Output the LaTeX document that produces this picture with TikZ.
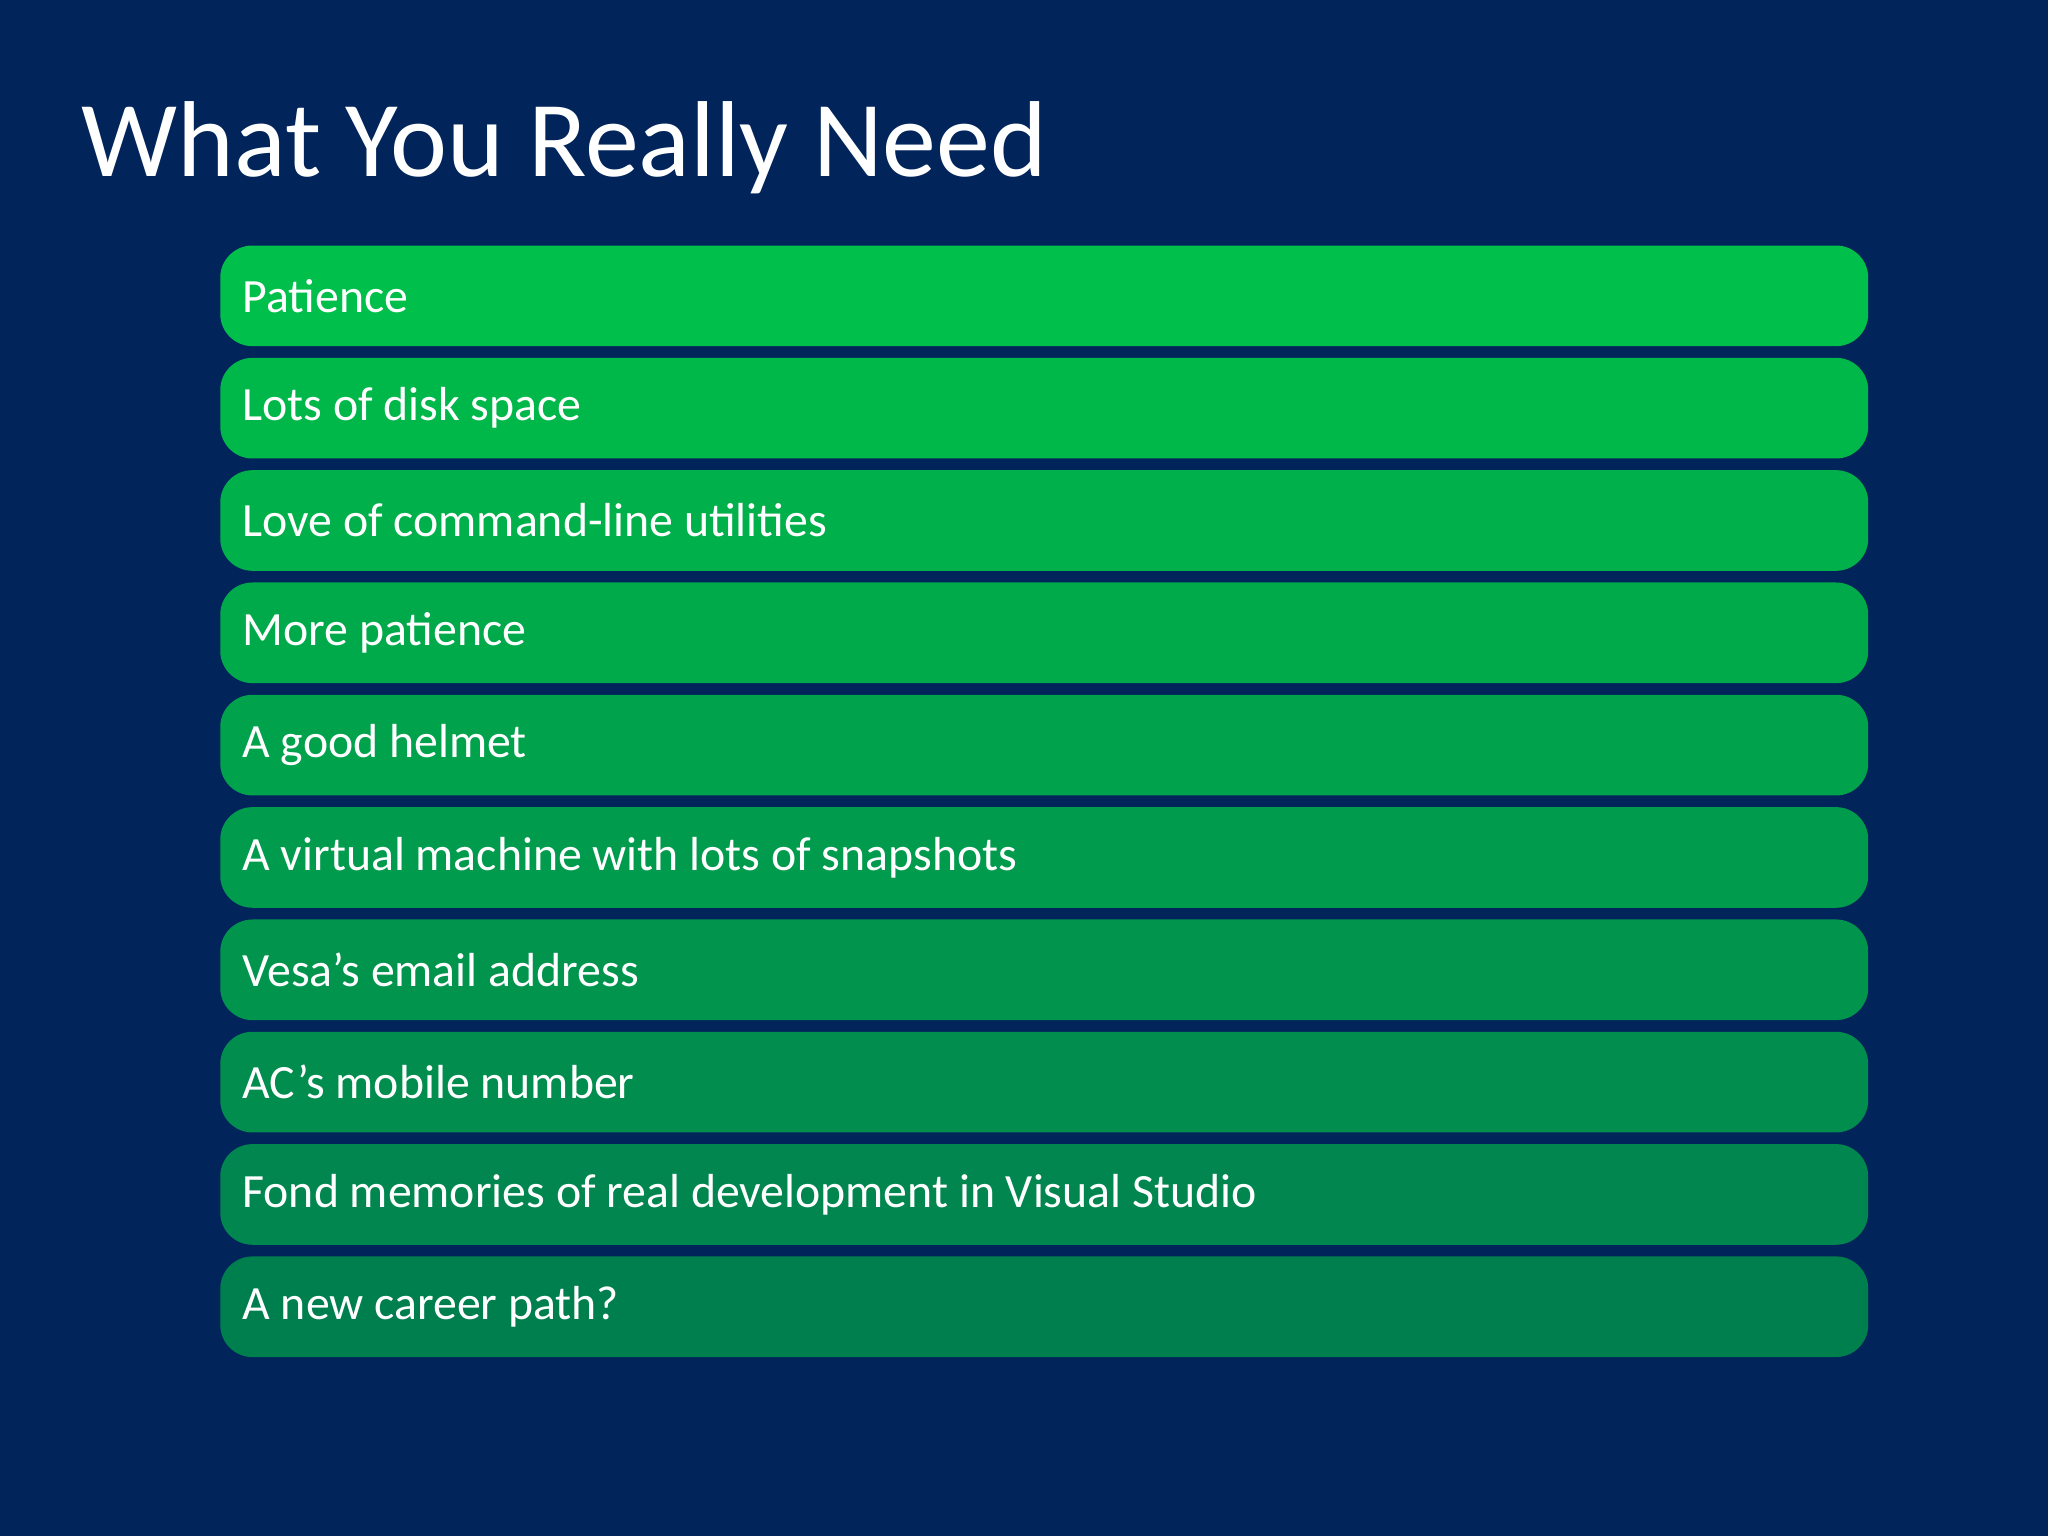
\documentclass[tikz,border=0pt]{standalone}
\usepackage{fontspec}
\setmainfont{Carlito}
\definecolor{bg}{HTML}{01245A}
\definecolor{gtop}{HTML}{00BF4A}
\definecolor{gbot}{HTML}{007F4E}
\begin{document}
\begin{tikzpicture}[x=0.01cm,y=-0.01cm,
  bar/.style={rounded corners=7pt, minimum width=12.61cm, minimum height=0.77cm, inner sep=0pt},
  lbl/.style={anchor=west, text=white, font=\fontsize{10.4pt}{12pt}\selectfont, inner sep=0pt}]
\fill[bg] (0,0) rectangle (1568,1176);
\node[anchor=base west, text=white, font=\fontsize{23.5pt}{28pt}\selectfont, inner sep=0pt] (title) at (62,135) {What You Really Need};
\foreach \t [count=\i from 0] in {Patience,Lots of disk space,Love of command-line utilities,More patience,A good helmet,A virtual machine with lots of snapshots,Vesa’s email address,AC’s mobile number,Fond memories of real development in Visual Studio,A new career path?}{
  \pgfmathsetmacro{\mix}{100-\i*100/9}
  \node[bar, fill=gtop!\mix!gbot] (b\i) at (799.5,{226.5+86*\i}) {};
  \node[lbl] (t\i) at ([xshift=0.17cm]b\i.west) {\t};
}
\end{tikzpicture}
\end{document}
